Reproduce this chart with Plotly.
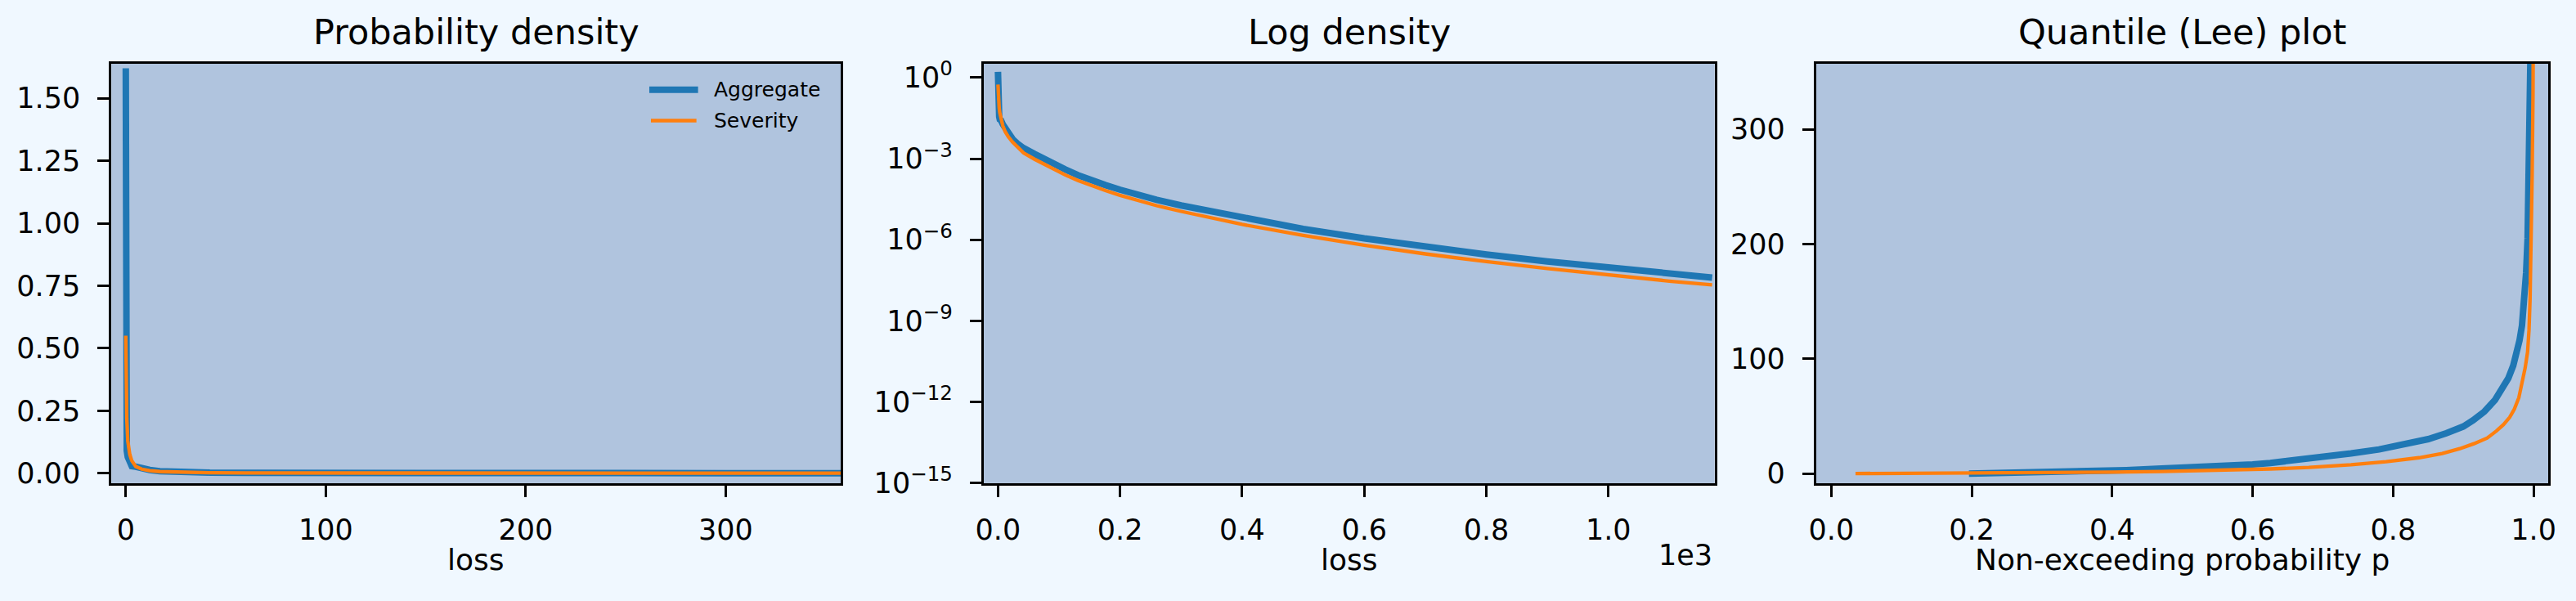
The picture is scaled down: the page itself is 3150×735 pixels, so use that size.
import plotly.graph_objects as go

# ---------------- data ----------------
loss = [0, 0.125, 0.25, 0.5, 1, 2, 3, 5, 8, 12, 17, 24, 32, 42, 60, 87, 110, 131,
        155, 176, 200, 220, 260, 300, 400, 500, 600, 700, 800, 900, 1000, 1100, 1170]
agg_density = [1.62, 0.15, 0.12, 0.09, 0.065, 0.0355, 0.028, 0.026, 0.0185, 0.013,
               0.0083, 0.0053, 0.0036, 0.00245, 1.48e-3, 6.9e-4, 4.0e-4, 2.45e-4,
               1.51e-4, 1.05e-4, 7.1e-5, 5.25e-5, 3.0e-5, 1.86e-5, 6.4e-6, 2.5e-6,
               1.12e-6, 5.4e-7, 2.85e-7, 1.58e-7, 9.1e-8, 5.6e-8, 4.0e-8]
sev_density = [0.55, 0.36, 0.29, 0.22, 0.13, 0.075, 0.05, 0.027, 0.0162, 0.0098,
               0.0064, 0.0041, 0.0026, 0.00162, 9.5e-4, 4.5e-4, 2.5e-4, 1.55e-4,
               9.5e-5, 6.6e-5, 4.4e-5, 3.25e-5, 1.82e-5, 1.12e-5, 3.7e-6, 1.45e-6,
               6.3e-7, 3.0e-7, 1.55e-7, 8.7e-8, 4.9e-8, 2.95e-8, 2.15e-8]

agg_p = [0.196, 0.25, 0.30, 0.364, 0.42, 0.47, 0.52, 0.557, 0.60, 0.625, 0.68, 0.74,
         0.78, 0.818, 0.85, 0.876, 0.90, 0.914, 0.93, 0.945, 0.955, 0.964, 0.971,
         0.976, 0.980, 0.9835, 0.9865, 0.9894, 0.9915, 0.9935, 0.996, 0.9975, 0.9985]
agg_q = [0.0, 0.4, 0.9, 1.8, 3.0, 4.3, 5.4, 6.4, 8.0, 9.2, 12.5, 17.5, 21.0, 25.2,
         30.0, 35.2, 41.0, 46.5, 54.0, 64.0, 73.0, 83.0, 94.0, 105.0, 116.0, 129.0,
         148.0, 175.0, 205.0, 243.0, 300.0, 357.0, 480.0]
sev_p = [0.0345, 0.10, 0.20, 0.30, 0.40, 0.4705, 0.557, 0.625, 0.68, 0.74, 0.79,
         0.837, 0.87, 0.895, 0.915, 0.934, 0.947, 0.957, 0.966, 0.9725, 0.979, 0.984,
         0.988, 0.9915, 0.9935, 0.995, 0.9965, 0.998, 0.9992, 0.9999]
sev_q = [0.0, 0.1, 0.35, 0.7, 1.3, 1.85, 2.8, 4.0, 5.3, 7.6, 10.3, 13.8, 17.5, 21.7,
         26.0, 31.0, 37.0, 42.5, 49.0, 56.0, 66.0, 79.0, 92.0, 106.0, 125.0, 152.0,
         195.0, 260.0, 330.0, 420.0]

titles = ["Probability density", "Log density", "Quantile (Lee) plot"]
x_titles = ["loss", "loss", "Non-exceeding probability p"]
series_names = ["Aggregate", "Severity"]

lin_y_ticks = [0, 0.25, 0.5, 0.75, 1.0, 1.25, 1.5]
lin_x_ticks = [0, 100, 200, 300]
log_x_ticks = [0, 200, 400, 600, 800, 1000]
log_x_text = ["0.0", "0.2", "0.4", "0.6", "0.8", "1.0"]
log_y_ticks = [1e-15, 1e-12, 1e-9, 1e-6, 1e-3, 1]
log_y_text = ["10<sup>−15</sup>", "10<sup>−12</sup>", "10<sup>−9</sup>",
              "10<sup>−6</sup>", "10<sup>−3</sup>", "10<sup>0</sup>"]
q_x_ticks = [0, 0.2, 0.4, 0.6, 0.8, 1.0]
q_y_ticks = [0, 100, 200, 300]

# ---------------- styling ----------------
W, H = 3150, 735
BLUE, ORANGE = "#1f77b4", "#ff7f0e"
FONT = "DejaVu Sans"
TICK_FS = 35
LW_AGG, LW_SEV = 8, 4.3


def px_x(v):
    return v / W


def px_y(v):
    return 1 - v / H


dom_y = [px_y(606), px_y(72.5)]
doms_x = [[px_x(127), px_x(1025)], [px_x(1200.5), px_x(2100)], [px_x(2225), px_x(3126)]]

fig = go.Figure()
panels = [("x", "y", loss, agg_density, loss, sev_density),
          ("x2", "y2", loss, agg_density, loss, sev_density),
          ("x3", "y3", agg_p, agg_q, sev_p, sev_q)]
for xa, ya, ax, ay, sx, sy in panels:
    fig.add_trace(go.Scatter(x=ax, y=ay, mode="lines", name=series_names[0],
                             line=dict(color=BLUE, width=LW_AGG), xaxis=xa, yaxis=ya,
                             showlegend=False))
    fig.add_trace(go.Scatter(x=sx, y=sy, mode="lines", name=series_names[1],
                             line=dict(color=ORANGE, width=LW_SEV), xaxis=xa, yaxis=ya,
                             showlegend=False))

axis_common = dict(showline=True, linecolor="black", linewidth=3, mirror=True,
                   ticks="outside", ticklen=14, tickwidth=3, tickcolor="black",
                   showgrid=False, zeroline=False,
                   tickfont=dict(family=FONT, size=TICK_FS, color="black"))

fig.update_layout(
    width=W, height=H,
    margin=dict(l=0, r=0, t=0, b=0, pad=0),
    paper_bgcolor="#F0F8FF",
    plot_bgcolor="#B0C4DE",
    font=dict(family=FONT, color="black"),
    showlegend=False,
    xaxis=dict(domain=doms_x[0], range=[-7.2, 357.7], tickvals=lin_x_ticks,
               anchor="y", ticklabelstandoff=10, **axis_common),
    yaxis=dict(domain=dom_y, range=[-0.040, 1.639], tickvals=lin_y_ticks,
               tickformat=".2f", anchor="x", ticklabelstandoff=14, **axis_common),
    xaxis2=dict(domain=doms_x[1], range=[-23.4, 1174], tickvals=log_x_ticks,
                ticktext=log_x_text, anchor="y2", ticklabelstandoff=10, **axis_common),
    yaxis2=dict(domain=dom_y, type="log", range=[-15.003, 0.516], tickvals=log_y_ticks,
                ticktext=log_y_text, anchor="x2", ticklabelstandoff=14, **axis_common),
    xaxis3=dict(domain=doms_x[2], range=[-0.0215, 1.021], tickvals=q_x_ticks,
                tickformat=".1f", anchor="y3", ticklabelstandoff=10, **axis_common),
    yaxis3=dict(domain=dom_y, range=[-8.4, 357.2], tickvals=q_y_ticks,
                anchor="x3", ticklabelstandoff=14, **axis_common),
)

centers = [(127 + 1025) / 2, (1200.5 + 2100) / 2, (2225 + 3126) / 2]
annotations = []
for c, t in zip(centers, titles):
    annotations.append(dict(text=t, x=px_x(c), y=px_y(32), xref="paper", yref="paper",
                            xanchor="center", yanchor="middle", showarrow=False,
                            font=dict(family=FONT, size=43, color="black")))
for c, t in zip(centers, x_titles):
    annotations.append(dict(text=t, x=px_x(c), y=px_y(703), xref="paper", yref="paper",
                            xanchor="center", yanchor="middle", showarrow=False,
                            font=dict(family=FONT, size=36, color="black")))
annotations.append(dict(text="1e3", x=px_x(2099), y=px_y(698), xref="paper", yref="paper",
                        xanchor="right", yanchor="middle", showarrow=False,
                        font=dict(family=FONT, size=35, color="black")))
annotations.append(dict(text=series_names[0], x=px_x(866), y=px_y(106), xref="paper",
                        yref="paper", xanchor="left", yanchor="middle", showarrow=False,
                        font=dict(family=FONT, size=25, color="black")))
annotations.append(dict(text=series_names[1], x=px_x(866), y=px_y(145), xref="paper",
                        yref="paper", xanchor="left", yanchor="middle", showarrow=False,
                        font=dict(family=FONT, size=25, color="black")))
fig.update_layout(annotations=annotations)

# legend line samples
fig.add_shape(type="line", xref="paper", yref="paper", x0=px_x(789), x1=px_x(849),
              y0=px_y(105.7), y1=px_y(105.7), line=dict(color=BLUE, width=LW_AGG))
fig.add_shape(type="line", xref="paper", yref="paper", x0=px_x(791), x1=px_x(847),
              y0=px_y(145), y1=px_y(145), line=dict(color=ORANGE, width=LW_SEV))

fig.write_html("out.html")
